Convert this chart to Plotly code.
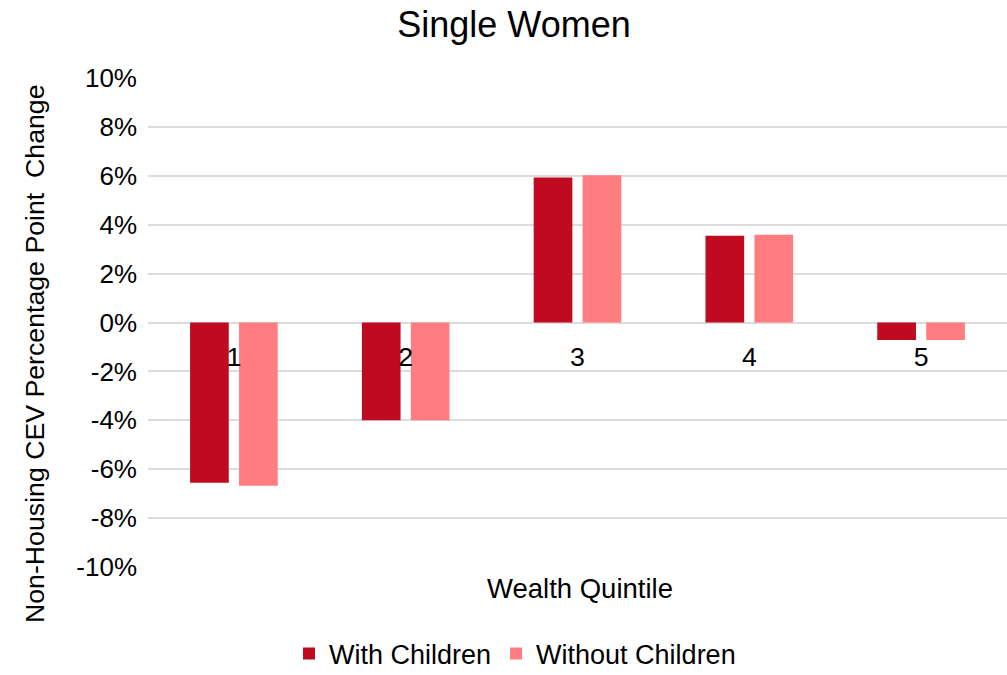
import plotly.graph_objects as go

quintiles = ["1", "2", "3", "4", "5"]
with_children = [-6.55, -4.0, 5.93, 3.55, -0.72]
without_children = [-6.68, -4.0, 6.02, 3.59, -0.72]
y_ticks = [-10, -8, -6, -4, -2, 0, 2, 4, 6, 8, 10]
y_tick_labels = [f"{v}%" for v in y_ticks]

FONT = "Liberation Sans, Arial, sans-serif"

fig = go.Figure()
fig.add_trace(go.Bar(x=quintiles, y=with_children, name="With Children",
                     marker=dict(color="#C00A20", line=dict(width=0))))
fig.add_trace(go.Bar(x=quintiles, y=without_children, name="Without Children",
                     marker=dict(color="#FF7C80", line=dict(width=0))))

W, H = 1007, 675
L, R, T, B = 148, 0, 78, 108
pw = W - L - R
ph = H - T - B

fig.update_layout(
    width=W, height=H,
    margin=dict(l=L, r=R, t=T, b=B, pad=0, autoexpand=False),
    paper_bgcolor="white", plot_bgcolor="white",
    font=dict(family=FONT, color="#000000", size=26.7),
    barmode="group", bargap=0.43, bargroupgap=0.21,
    title=dict(text="Single Women", font=dict(size=36, family=FONT),
               xref="container", x=514 / W, xanchor="center",
               yref="container", y=1 - 24 / H, yanchor="middle"),
    xaxis=dict(type="category", anchor="free", position=0.5,
               showline=False, showgrid=False, zeroline=False,
               ticks="", tickfont=dict(size=26.7), ticklabelstandoff=16),
    yaxis=dict(range=[-10, 10], tickvals=y_ticks, ticktext=y_tick_labels,
               showgrid=True, gridcolor="#DCDCDC", gridwidth=2,
               zeroline=True, zerolinecolor="#DCDCDC", zerolinewidth=2,
               showline=False, ticks="", tickfont=dict(size=26),
               ticklabelstandoff=10),
    legend=dict(orientation="h", x=(515 - L) / pw, xanchor="center",
                y=-(654 - (T + ph)) / ph, yanchor="middle",
                font=dict(size=27), itemsizing="constant",
                traceorder="normal"),
    showlegend=True,
)

fig.add_annotation(text="Wealth Quintile", xref="paper", yref="paper",
                   x=(580 - L) / pw, y=-(588 - (T + ph)) / ph,
                   xanchor="center", yanchor="middle", showarrow=False,
                   font=dict(size=27.5, family=FONT))
fig.add_annotation(text="Non-Housing CEV Percentage Point  Change",
                   xref="paper", yref="paper",
                   x=-(L - 35) / pw, y=((T + ph) - 354) / ph,
                   xanchor="center", yanchor="middle", textangle=-90,
                   showarrow=False, font=dict(size=26.7, family=FONT))

fig.write_html("out.html")
